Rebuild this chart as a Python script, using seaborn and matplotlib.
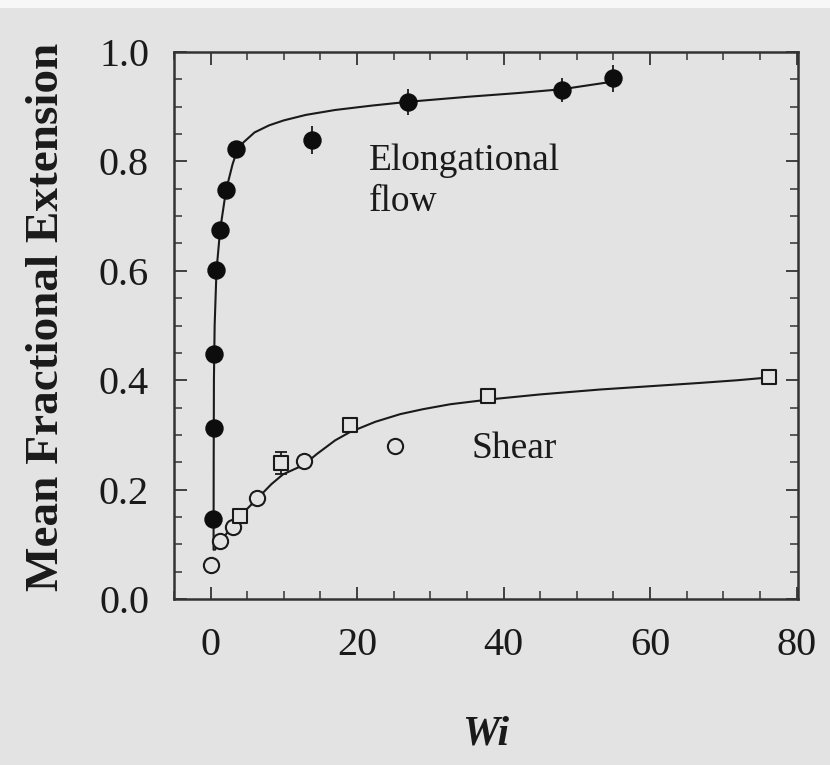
import matplotlib
matplotlib.use("Agg")
import matplotlib.pyplot as plt
import seaborn as sns
import pandas as pd
from matplotlib.ticker import MultipleLocator
from matplotlib.patches import Rectangle

# Measured mean fractional extension vs Weissenberg number
elong_wi = [0.35, 0.4, 0.5, 0.8, 1.3, 2.1, 3.5, 13.8, 27.0, 48.0, 55.0]
elong_ext = [0.146, 0.312, 0.447, 0.602, 0.675, 0.747, 0.823, 0.839, 0.908, 0.931, 0.952]
elong_err = [0.008, 0.008, 0.008, 0.01, 0.01, 0.01, 0.01, 0.025, 0.024, 0.022, 0.025]

shear_circ_wi = [0.0, 1.3, 3.1, 6.3, 12.7, 25.2]
shear_circ_ext = [0.062, 0.106, 0.131, 0.184, 0.252, 0.280]

shear_sq_wi = [4.0, 9.6, 19.0, 37.9, 76.2]
shear_sq_ext = [0.152, 0.248, 0.318, 0.371, 0.405]
shear_sq_err = [0.008, 0.02, 0.01, 0.008, 0.008]

# Model curves traced through the data
elong_fit_wi = [0.4, 0.42, 0.45, 0.55, 0.8, 1.3, 2.1, 3.0, 3.5, 4.5, 6.0, 8.0,
                10.0, 13.0, 17.0, 22.0, 27.0, 35.0, 42.0, 48.0, 55.0]
elong_fit_ext = [0.09, 0.25, 0.40, 0.50, 0.60, 0.675, 0.747, 0.795, 0.815, 0.835,
                 0.853, 0.866, 0.875, 0.885, 0.894, 0.902, 0.909, 0.918, 0.925,
                 0.932, 0.946]
shear_fit_wi = [0.6, 1.3, 2.2, 3.6, 5.0, 6.7, 8.3, 9.9, 12.7, 14.5, 17.0, 19.0,
                22.5, 25.9, 29.0, 32.7, 38.2, 45.0, 53.2, 60.0, 66.8, 72.0, 76.2]
shear_fit_ext = [0.09, 0.106, 0.12, 0.143, 0.165, 0.188, 0.21, 0.228, 0.245, 0.265,
                 0.29, 0.305, 0.324, 0.338, 0.347, 0.356, 0.365, 0.374, 0.383,
                 0.389, 0.395, 0.400, 0.405]

x_ticks = [0, 20, 40, 60, 80]
y_ticks = [0.0, 0.2, 0.4, 0.6, 0.8, 1.0]

sns.set_theme(style="ticks")
bg = "#e3e3e3"
plt.rcParams["font.family"] = ["Liberation Serif", "DejaVu Serif"]

fig = plt.figure(figsize=(8.3, 7.65), dpi=100, facecolor=bg)
# pale paper strip along the top edge
fig.patches.append(Rectangle((0, 1 - 8 / 765), 1, 8 / 765, transform=fig.transFigure,
                             facecolor="#f7f7f7", edgecolor="none", zorder=0))
ax = fig.add_axes([174 / 830, 1 - 599 / 765, 624 / 830, 547 / 765])
ax.set_facecolor(bg)

ink = "#1a1a1a"

elong_fit = pd.DataFrame({"Wi": elong_fit_wi, "ext": elong_fit_ext})
shear_fit = pd.DataFrame({"Wi": shear_fit_wi, "ext": shear_fit_ext})
sns.lineplot(data=elong_fit, x="Wi", y="ext", sort=False, color=ink, lw=1.5, ax=ax)
sns.lineplot(data=shear_fit, x="Wi", y="ext", sort=False, color=ink, lw=1.5, ax=ax)

ax.errorbar(elong_wi, elong_ext, yerr=elong_err, fmt="none", ecolor=ink,
            elinewidth=1.3, capsize=0, zorder=3)
ax.errorbar(shear_sq_wi, shear_sq_ext, yerr=shear_sq_err, fmt="none", ecolor=ink,
            elinewidth=1.3, capsize=4, capthick=1.3, zorder=3)

sns.scatterplot(x=elong_wi, y=elong_ext, marker="o", s=150, color="#0d0d0d",
                edgecolor="#0d0d0d", linewidth=1, ax=ax, zorder=4)
sns.scatterplot(x=shear_circ_wi, y=shear_circ_ext, marker="o", s=120, facecolor=bg,
                edgecolor=ink, linewidth=1.5, ax=ax, zorder=4)
sns.scatterplot(x=shear_sq_wi, y=shear_sq_ext, marker="s", s=105, facecolor=bg,
                edgecolor=ink, linewidth=1.5, ax=ax, zorder=4)

ax.text(21.6, 0.785, "Elongational", fontsize=27, color=ink, va="baseline", ha="left")
ax.text(21.6, 0.709, "flow", fontsize=27, color=ink, va="baseline", ha="left")
ax.text(35.6, 0.258, "Shear", fontsize=27, color=ink, va="baseline", ha="left")

ax.set_xlim(-5, 80.2)
ax.set_ylim(0, 1.0)
ax.set_xticks(x_ticks)
ax.set_yticks(y_ticks)
ax.set_yticklabels([f"{v:.1f}" for v in y_ticks])
ax.xaxis.set_minor_locator(MultipleLocator(5))
ax.yaxis.set_minor_locator(MultipleLocator(0.05))
ax.tick_params(which="both", direction="in", top=True, right=True, color="#333333")
ax.tick_params(which="major", length=9, width=1.3, labelsize=29, labelcolor=ink)
ax.tick_params(which="minor", length=6, width=1.1)
ax.tick_params(axis="x", which="major", pad=20)
ax.tick_params(axis="y", which="major", pad=18)
for sp in ax.spines.values():
    sp.set_color("#333333")
    sp.set_linewidth(1.8)

ax.set_xlabel("Wi", fontsize=30, fontweight="bold", fontstyle="italic", color=ink,
              labelpad=37)
ax.set_ylabel("Mean Fractional Extension", fontsize=34, fontweight="bold", color=ink)
ax.yaxis.set_label_coords(-0.17, 0.515)

fig.savefig("out.png", dpi=100, facecolor=bg)
